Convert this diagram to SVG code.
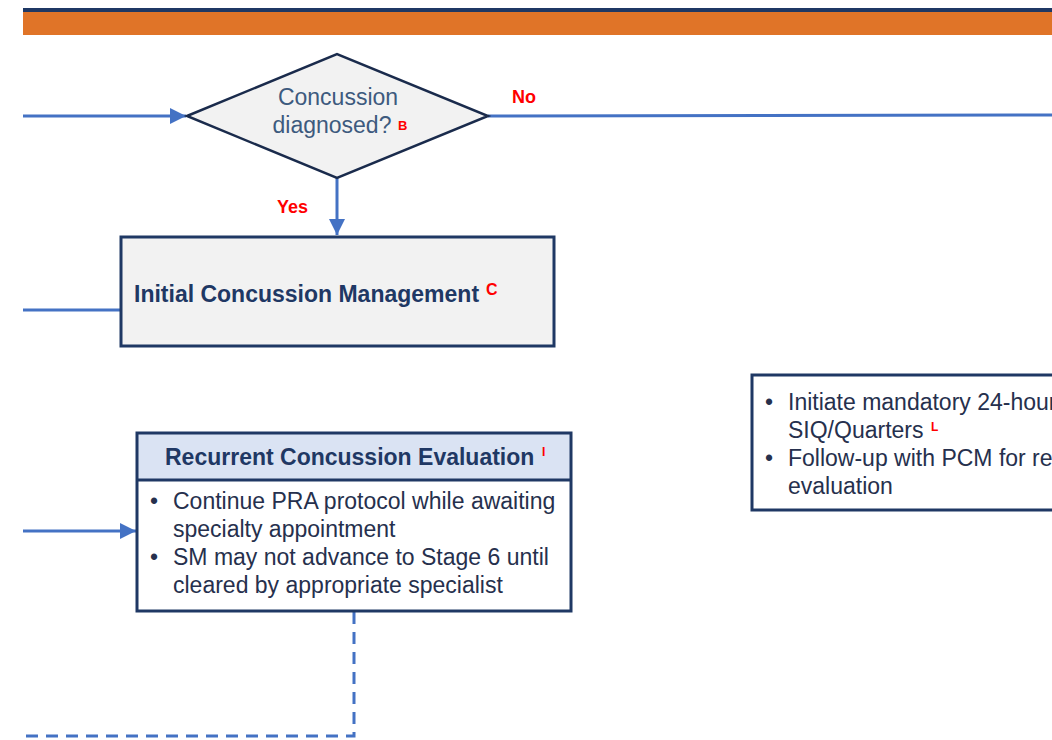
<svg xmlns="http://www.w3.org/2000/svg" width="1052" height="740" viewBox="0 0 1052 740">
<defs>
<style>
.conn{fill:none;stroke:#4472c4;stroke-width:3}
.dash{stroke-dasharray:12 8}
.box{stroke:#1f3864;stroke-width:3}
.t{font-family:"Liberation Sans",Arial,sans-serif;font-size:23px;fill:#26304d}
.b{font-weight:bold;fill:#1f3864}
.d{fill:#3d5a7e}
.red{font-family:"Liberation Sans",Arial,sans-serif;font-weight:bold;fill:#ff0000}
.lbl{font-family:"Liberation Sans",Arial,sans-serif;font-weight:bold;font-size:18px;fill:#ff0000}
</style>
<marker id="ah" markerUnits="userSpaceOnUse" markerWidth="16" markerHeight="16" refX="16" refY="8" orient="auto">
<path d="M0,0 L16,8 L0,16 Z" fill="#4472c4"/>
</marker>
</defs>
<rect width="1052" height="740" fill="#ffffff"/>
<g id="header">
<rect x="23" y="8" width="1029" height="4" fill="#1f3864"/>
<rect x="23" y="12" width="1029" height="23" fill="#e07428"/>
</g>
<g id="connectors">
<line class="conn" x1="23" y1="116" x2="186" y2="116" marker-end="url(#ah)"/>
<line class="conn" x1="488" y1="116" x2="1052" y2="115"/>
<line class="conn" x1="337" y1="178" x2="337" y2="235" marker-end="url(#ah)"/>
<line class="conn" x1="23" y1="310" x2="121" y2="310"/>
<line class="conn" x1="23" y1="531" x2="136" y2="531" marker-end="url(#ah)"/>
<polyline class="conn dash" points="354,612 354,736 23,736"/>
<text class="lbl" x="512" y="103">No</text>
<text class="lbl" x="277" y="213">Yes</text>
</g>
<g id="decision">
<polygon points="187,116 337,54 488,116 337,178" fill="#f2f2f2" stroke="#1a2b4c" stroke-width="2.5"/>
<text class="t d" x="338" y="105" text-anchor="middle">Concussion</text>
<text class="t d" x="332" y="133" text-anchor="middle">diagnosed?</text>
<text class="red" x="398" y="130" font-size="13">B</text>
</g>
<g id="initial">
<rect class="box" x="121" y="237" width="433" height="109" fill="#f2f2f2"/>
<text class="t b" x="134" y="302">Initial Concussion Management</text>
<text class="red" x="486" y="295" font-size="16">C</text>
</g>
<g id="recurrent">
<rect x="137" y="433" width="434" height="47" fill="#dae3f3"/>
<rect class="box" x="137" y="433" width="434" height="178" fill="none"/>
<line class="box" x1="137" y1="480" x2="571" y2="480"/>
<text class="t b" x="165" y="465">Recurrent Concussion Evaluation</text>
<text class="red" x="542" y="456" font-size="12">I</text>
<text class="t" x="150" y="509">•</text>
<text class="t" x="173" y="509">Continue PRA protocol while awaiting</text>
<text class="t" x="173" y="537">specialty appointment</text>
<text class="t" x="150" y="565">•</text>
<text class="t" x="173" y="565">SM may not advance to Stage 6 until</text>
<text class="t" x="173" y="593">cleared by appropriate specialist</text>
</g>
<g id="quarters">
<rect class="box" x="752" y="375" width="320" height="135" fill="#ffffff"/>
<text class="t" x="765" y="410">•</text>
<text class="t" x="788" y="410">Initiate mandatory 24-hour</text>
<text class="t" x="788" y="438">SIQ/Quarters</text>
<text class="red" x="931" y="431" font-size="12">L</text>
<text class="t" x="765" y="466">•</text>
<text class="t" x="788" y="466">Follow-up with PCM for re</text>
<text class="t" x="788" y="494">evaluation</text>
</g>
</svg>
